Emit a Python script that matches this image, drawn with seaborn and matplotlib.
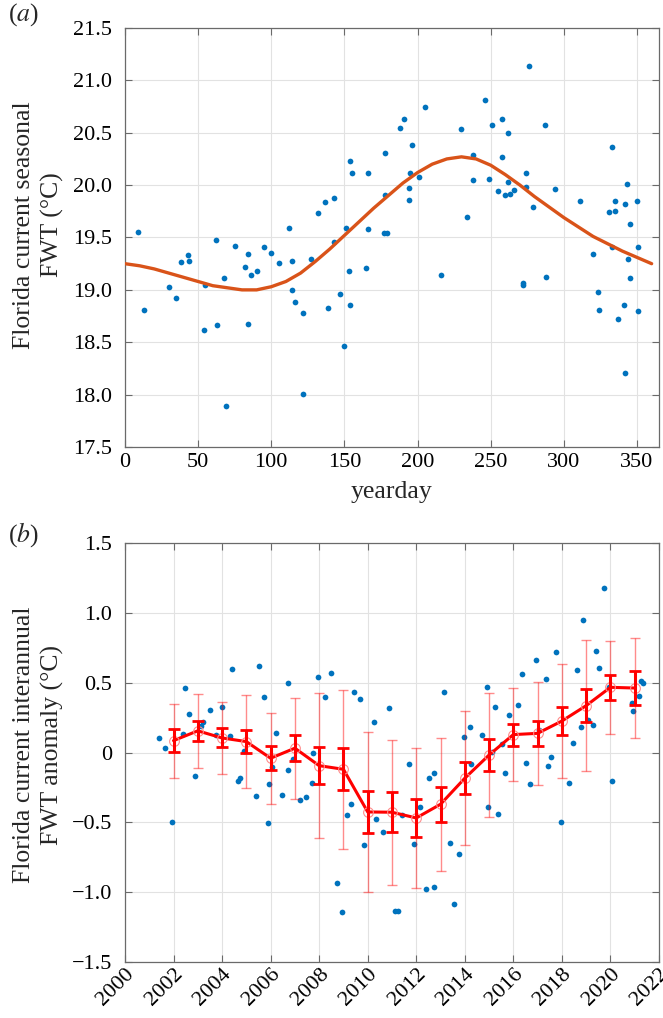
import numpy as np
import pandas as pd
import matplotlib
matplotlib.use("Agg")
import matplotlib.pyplot as plt
import seaborn as sns

# ---------------- data: panel (a) ----------------
yearday = [9, 13, 30, 35, 38, 43, 44, 54, 55, 62, 63, 68, 69, 75, 82, 84, 84, 86, 90,
           95, 100, 105, 112, 114, 114, 116, 122, 122, 127, 132, 137, 139, 143, 143,
           147, 150, 151, 153, 154, 154, 155, 165, 166, 166, 177, 178, 179, 178,
           188, 191, 194, 194, 195, 196, 201, 205, 216, 230, 234, 238, 238, 246,
           249, 251, 255, 258, 258, 260, 262, 262, 263, 266, 272, 272, 274, 274,
           276, 279, 287, 288, 294, 311, 320, 323, 324, 331, 333, 333, 335, 335,
           337, 341, 342, 342, 343, 344, 345, 345, 350, 351, 351]
seasonal_fwt = [19.55, 18.81, 19.03, 18.92, 19.27, 19.33, 19.28, 18.62, 19.05, 19.48,
                18.66, 19.11, 17.89, 19.42, 19.22, 19.34, 18.67, 19.14, 19.18,
                19.41, 19.35, 19.26, 19.59, 19.28, 19.00, 18.88, 18.78, 18.01,
                19.29, 19.73, 19.84, 18.83, 19.88, 19.46, 18.96, 18.46, 19.59,
                19.18, 20.23, 18.86, 20.12, 19.21, 20.12, 19.58, 19.54, 20.31,
                19.54, 19.91, 20.55, 20.63, 19.97, 19.86, 20.12, 20.38, 20.08,
                20.75, 19.14, 20.54, 19.70, 20.29, 20.05, 20.81, 20.06, 20.57,
                19.94, 20.63, 20.27, 19.91, 20.50, 20.03, 19.92, 19.95, 19.07,
                19.05, 20.12, 19.98, 21.14, 19.79, 20.57, 19.12, 19.96, 19.85,
                19.34, 18.98, 18.81, 19.74, 20.36, 19.41, 19.85, 19.75, 18.72,
                18.86, 19.82, 18.21, 20.01, 19.29, 19.63, 19.11, 19.85, 19.41, 18.80]

fit_day = [0, 10, 20, 30, 40, 50, 60, 70, 80, 90, 100, 110, 120, 130, 140, 150, 160,
           170, 180, 190, 200, 210, 220, 230, 240, 250, 260, 270, 280, 290, 300,
           310, 320, 330, 340, 350, 360]
fit_fwt = [19.25, 19.23, 19.20, 19.16, 19.12, 19.08, 19.04, 19.02, 19.00, 19.00,
           19.03, 19.08, 19.16, 19.27, 19.39, 19.52, 19.65, 19.78, 19.90, 20.02,
           20.12, 20.20, 20.25, 20.27, 20.25, 20.19, 20.10, 20.00, 19.89, 19.79,
           19.69, 19.60, 19.51, 19.44, 19.37, 19.31, 19.25]

# ---------------- data: panel (b) ----------------
anom_time = [2001.39, 2001.65, 2001.92, 2002.40, 2002.49, 2002.62, 2002.88, 2003.12,
             2003.20, 2003.52, 2003.76, 2004.01, 2004.33, 2004.42, 2004.67, 2004.74,
             2004.90, 2005.40, 2005.51, 2005.71, 2005.88, 2005.95, 2006.06, 2006.21,
             2006.47, 2006.70, 2006.72, 2006.91, 2007.21, 2007.47, 2007.70, 2007.73,
             2007.95, 2008.24, 2008.50, 2008.74, 2008.93, 2009.13, 2009.31, 2009.44,
             2009.67, 2009.86, 2010.26, 2010.36, 2010.62, 2010.89, 2011.14, 2011.25,
             2011.43, 2011.70, 2011.91, 2012.15, 2012.39, 2012.51, 2012.73, 2012.74,
             2013.14, 2013.39, 2013.57, 2013.76, 2013.97, 2014.22, 2014.27, 2014.70,
             2014.93, 2014.97, 2015.11, 2015.25, 2015.37, 2015.52, 2015.66, 2015.82,
             2016.19, 2016.34, 2016.51, 2016.69, 2016.92, 2017.07, 2017.36, 2017.44,
             2017.54, 2017.76, 2017.95, 2018.28, 2018.45, 2018.64, 2018.78, 2018.89,
             2019.09, 2019.28, 2019.41, 2019.53, 2019.74, 2019.93, 2020.08, 2020.90,
             2020.93, 2021.19, 2021.27, 2021.36]
anom_fwt = [0.104, 0.033, -0.499, 0.130, 0.459, 0.278, -0.165, 0.190, 0.218, 0.306,
            0.123, 0.326, 0.116, 0.595, -0.203, -0.182, 0.013, -0.311, 0.621, 0.395,
            -0.506, -0.227, -0.105, 0.142, -0.303, 0.495, -0.125, -0.048, -0.337,
            -0.318, -0.220, -0.002, 0.540, 0.399, 0.571, -0.930, -1.140, -0.446,
            -0.368, 0.435, 0.383, -0.663, 0.218, -0.473, -0.568, 0.318, -1.135,
            -1.133, -0.449, -0.082, -0.651, -0.387, -0.975, -0.180, -0.959, -0.144,
            0.433, -0.644, -1.085, -0.723, 0.111, 0.183, -0.083, 0.128, 0.469,
            -0.391, 0.003, 0.326, -0.437, 0.063, -0.146, 0.268, 0.342, 0.559,
            -0.074, -0.223, 0.662, 0.159, 0.523, -0.094, -0.034, 0.719, -0.499,
            -0.218, 0.066, 0.588, 0.181, 0.950, 0.231, 0.200, 0.726, 0.604, 1.174,
            0.471, -0.206, 0.352, 0.299, 0.404, 0.511, 0.499]

annual_year = list(range(2002, 2022))
annual_mean = [0.085, 0.155, 0.104, 0.078, -0.041, 0.031, -0.094, -0.120, -0.425,
               -0.427, -0.468, -0.370, -0.184, -0.018, 0.128, 0.137, 0.225, 0.335,
               0.466, 0.461]
annual_err_inner = [0.080, 0.070, 0.068, 0.085, 0.085, 0.092, 0.134, 0.150, 0.153,
                    0.143, 0.135, 0.125, 0.115, 0.112, 0.078, 0.090, 0.098, 0.117,
                    0.088, 0.120]
annual_err_outer = [0.265, 0.265, 0.260, 0.335, 0.327, 0.360, 0.520, 0.570, 0.570,
                    0.517, 0.500, 0.475, 0.480, 0.445, 0.330, 0.366, 0.405, 0.470,
                    0.333, 0.355]

a_yticks = [17.5, 18.0, 18.5, 19.0, 19.5, 20.0, 20.5, 21.0, 21.5]
a_xticks = [0, 50, 100, 150, 200, 250, 300, 350]
b_yticks = [-1.5, -1.0, -0.5, 0, 0.5, 1.0, 1.5]
b_xticks = list(range(2000, 2023, 2))

# ---------------- style ----------------
sns.set_theme(style="white")
plt.rcParams["font.family"] = ["Liberation Serif", "DejaVu Serif"]
plt.rcParams["mathtext.fontset"] = "stix"
plt.rcParams["axes.unicode_minus"] = True

FS = 16      # tick labels
LFS = 18.5   # axis labels
BLUE = "#0072BD"
ORANGE = "#D95319"
RED = "#FF0000"
SPINE = "#6a6a6a"
GRID = "#e2e2e2"

fig = plt.figure(figsize=(6.63, 10.18), dpi=100)
ax1 = fig.add_axes([0.1885, 0.5609, 0.8054, 0.4116])
ax2 = fig.add_axes([0.1885, 0.0547, 0.8054, 0.4122])


def style_axes(ax):
    for s in ax.spines.values():
        s.set_color(SPINE)
        s.set_linewidth(0.9)
        s.set_visible(True)
    ax.grid(True, color=GRID, linewidth=0.8)
    ax.set_axisbelow(True)
    ax.tick_params(direction="in", length=5, width=0.8, color=SPINE,
                   top=True, right=True, bottom=True, left=True,
                   labelsize=FS, labelcolor="black")
    ax.tick_params(axis="y", pad=9)
    ax.tick_params(axis="x", pad=4)


# ---------------- panel (a) ----------------
df_a = pd.DataFrame({"yearday": yearday, "fwt": seasonal_fwt})
df_fit = pd.DataFrame({"yearday": fit_day, "fwt": fit_fwt})
sns.scatterplot(data=df_a, x="yearday", y="fwt", ax=ax1, color=BLUE, s=17,
                linewidth=0, zorder=3)
sns.lineplot(data=df_fit, x="yearday", y="fwt", ax=ax1, color=ORANGE,
             linewidth=2.4, zorder=4)
ax1.set_xlim(0, 365)
ax1.set_ylim(17.5, 21.5)
ax1.set_xticks(a_xticks)
ax1.set_yticks(a_yticks)
ax1.set_yticklabels([f"{v:.1f}" for v in a_yticks])
style_axes(ax1)
ax1.set_xlabel("yearday", fontsize=LFS, labelpad=7)
ax1.set_ylabel("Florida current seasonal\nFWT (°C)", fontsize=LFS,
               linespacing=1.3, va="center")
ax1.yaxis.set_label_coords(-0.162, 0.53)

# ---------------- panel (b) ----------------
df_b = pd.DataFrame({"year": anom_time, "anom": anom_fwt})
df_m = pd.DataFrame({"year": annual_year, "anom": annual_mean})
sns.scatterplot(data=df_b, x="year", y="anom", ax=ax2, color=BLUE, s=17,
                linewidth=0, zorder=3)
ax2.errorbar(annual_year, annual_mean, yerr=annual_err_outer, fmt="none",
             ecolor=RED, alpha=0.45, elinewidth=1.0, capsize=3.5, capthick=1.0,
             zorder=4)
sns.lineplot(data=df_m, x="year", y="anom", ax=ax2, color=RED, linewidth=2.2,
             marker="o", markersize=7, markerfacecolor="none",
             markeredgecolor=(1, 0.55, 0.55), markeredgewidth=0.8, zorder=5)
ax2.errorbar(annual_year, annual_mean, yerr=annual_err_inner, fmt="none",
             ecolor=RED, elinewidth=2.2, capsize=4.2, capthick=2.0, zorder=6)
ax2.set_xlim(2000, 2022)
ax2.set_ylim(-1.5, 1.5)
ax2.set_xticks(b_xticks)
ax2.set_yticks(b_yticks)
ax2.set_yticklabels(["0" if v == 0 else f"{v:.1f}".replace("-", "\u2212")
                     for v in b_yticks])
ax2.set_xticklabels([str(y) for y in b_xticks])
style_axes(ax2)
for lab in ax2.get_xticklabels():
    lab.set_rotation(45)
    lab.set_ha("right")
    lab.set_va("top")
    lab.set_rotation_mode("anchor")
ax2.tick_params(axis="x", pad=2)
ax2.set_xlabel("")
ax2.set_ylabel("Florida current interannual\nFWT anomaly (°C)", fontsize=LFS,
               linespacing=1.3, va="center")
ax2.yaxis.set_label_coords(-0.162, 0.518)

# panel labels
fig.text(8 / 663, 1 - 15 / 1018, r"($\mathit{a}$)", fontsize=LFS, ha="left",
         va="center")
fig.text(8 / 663, 1 - 535 / 1018, r"($\mathit{b}$)", fontsize=LFS, ha="left",
         va="center")

fig.savefig("out.png", dpi=100)
